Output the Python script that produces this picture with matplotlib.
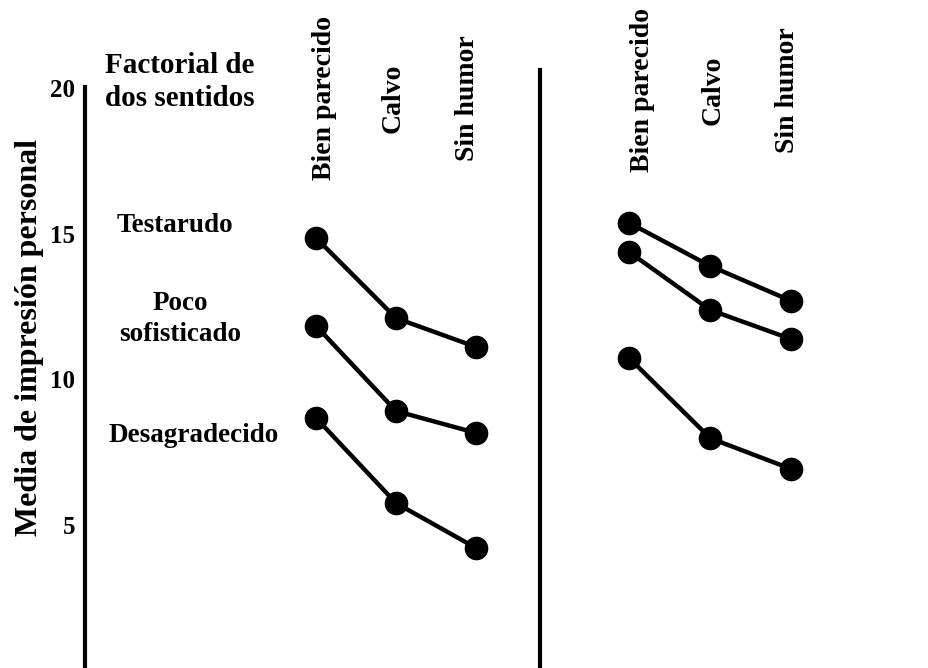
import matplotlib.pyplot as plt
from matplotlib.transforms import offset_copy

# Column (x) categories and row labels
rasgos = ["Bien parecido", "Calvo", "Sin humor"]
filas = ["Testarudo", "Poco\nsofisticado", "Desagradecido"]

# Left panel: factorial de dos sentidos
izq_testarudo = [14.85, 12.10, 11.11]
izq_poco_sofisticado = [11.83, 8.91, 8.16]
izq_desagradecido = [8.67, 5.75, 4.21]

# Right panel (top to bottom)
der_testarudo = [15.37, 13.89, 12.69]
der_poco_sofisticado = [14.37, 12.38, 11.38]
der_desagradecido = [10.73, 7.98, 6.92]

yticks = [5, 10, 15, 20]

plt.rcParams['font.family'] = ['Liberation Serif', 'DejaVu Serif']
plt.rcParams['font.weight'] = 'bold'

W, H = 929, 668
fig = plt.figure(figsize=(W / 100, H / 100), dpi=100)

ylim = (0.09, 23.02)
ax1 = fig.add_axes([85 / W, 0, (540 - 85) / W, 1])
ax2 = fig.add_axes([540 / W, 0, (W - 540) / W, 1])
ax1.set_xlim(-2.89, 2.8)
ax2.set_xlim(-1.10, 3.70)

xs = list(range(len(rasgos)))
style = dict(color='black', lw=3.2, marker='o', ms=16, solid_capstyle='round')

for ax, series in ((ax1, [izq_testarudo, izq_poco_sofisticado, izq_desagradecido]),
                   (ax2, [der_testarudo, der_poco_sofisticado, der_desagradecido])):
    ax.set_ylim(*ylim)
    for vals in series:
        ax.plot(xs, vals, **style)
    for s in ('top', 'right', 'bottom'):
        ax.spines[s].set_visible(False)
    ax.spines['left'].set_linewidth(3)
    ax.set_xticks([])

ax1.spines['left'].set_bounds(0.1, 20.05)
ax2.spines['left'].set_bounds(0.0, 20.62)

ax1.set_yticks(yticks)
ax1.set_yticklabels([str(t) for t in yticks], fontsize=18, fontweight='bold')
ax1.tick_params(axis='y', length=0, pad=7)
ax2.set_yticks([])

# column labels (rotated), small pixel nudges as in the original slide
for ax, ypix, nudges in ((ax1, 98, [8, -3, -9]), (ax2, 90, [13, 3, -4])):
    for x, lab, dx in zip(xs, rasgos, nudges):
        tr = offset_copy(ax.get_xaxis_transform(), fig=fig, x=dx, y=0, units='dots')
        ax.text(x, 1 - ypix / H, lab, transform=tr, rotation=90,
                ha='center', va='center', fontsize=20, fontweight='bold')

# row labels
for (xp, yp), lab in zip([(175, 225), (180, 319), (194, 435)], filas):
    fig.text(xp / W, 1 - yp / H, lab, ha='center', va='center',
             fontsize=19.5, fontweight='bold', multialignment='center',
             linespacing=1.35)

fig.text(105 / W, 1 - 82 / H, "Factorial de\ndos sentidos", ha='left', va='center',
         fontsize=21, fontweight='bold', linespacing=1.25)

fig.text(30 / W, 1 - 337 / H, "Media de impresión personal", rotation=90,
         ha='center', va='center', fontsize=23, fontweight='bold')

fig.savefig('out.png', dpi=100)
